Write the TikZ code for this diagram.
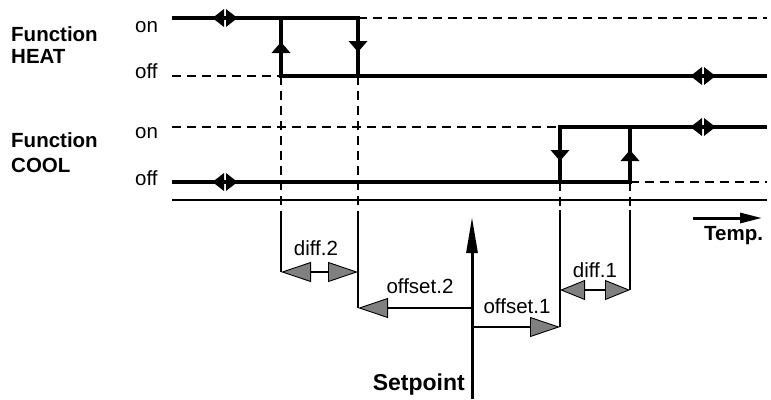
\documentclass[tikz,border=0pt]{standalone}
\usepackage{fontspec}
\setmainfont{Liberation Sans}
\usetikzlibrary{arrows.meta}
\definecolor{headgray}{RGB}{128,128,128}
\tikzset{
  lbl/.style={inner sep=0pt, font=\fontsize{20.5}{21}\selectfont},
  blbl/.style={inner sep=0pt, font=\fontsize{20.5}{21}\selectfont\bfseries},
  thick step/.style={line width=4pt, line cap=butt, line join=miter},
  dashline/.style={line width=1.6pt, dash pattern=on 9pt off 6pt},
  leg/.style={line width=1.8pt},
  dimarrow/.style={line width=2pt},
  gH/.tip={Triangle[length=30pt, width=20pt, fill=headgray, line width=0.9pt]},
  gS/.tip={Triangle[length=25pt, width=20pt, fill=headgray, line width=0.9pt]}
}
\begin{document}
\begin{tikzpicture}[x=1pt,y=-1pt]
\useasboundingbox (0,0) rectangle (771,399);
% coordinates
\coordinate (L1) at (172,18);   % heat on level
\coordinate (L2) at (172,76);   % heat off level
\coordinate (L3) at (172,127);  % cool on level
\coordinate (L4) at (172,182);  % cool off level
\coordinate (hA1) at (281,18);  \coordinate (hA2) at (281,76);
\coordinate (hB1) at (358,18);  \coordinate (hB2) at (358,76);
\coordinate (cA1) at (560,127); \coordinate (cA2) at (560,182);
\coordinate (cB1) at (630,127); \coordinate (cB2) at (630,182);
\coordinate (R1) at (767,18);   \coordinate (R2) at (767,76);
\coordinate (R3) at (767,127);  \coordinate (R4) at (767,182);
\coordinate (ax0) at (172,200); \coordinate (ax1) at (767,200);

% labels
\node[blbl, anchor=base west] (fh1) at (11,41) {Function};
\node[blbl, anchor=base west] (fh2) at (11,63) {HEAT};
\node[blbl, anchor=base west] (fc1) at (11,147) {Function};
\node[blbl, anchor=base west] (fc2) at (11,172) {COOL};
\node[lbl, anchor=base west] (on1) at (135,32) {on};
\node[lbl, anchor=base west] (off1) at (135,78) {off};
\node[lbl, anchor=base west] (on2) at (135,138) {on};
\node[lbl, anchor=base west] (off2) at (135,185) {off};

% dashed level lines
\draw[dashline] (L2) -- (hA2);
\draw[dashline] (hB1) -- (R1);
\draw[dashline] (L3) -- (cA1);
\draw[dashline] (cB2) -- (R4);

% axis
\draw[line width=1.5pt] (ax0) -- (ax1);

% heat step
\draw[thick step] (L1) -- (hB1) -- (hB2);
\draw[thick step] (hA1) -- (hA2) -- (R2);
% cool step
\draw[thick step] (L4) -- (cB2) -- (cB1);
\draw[thick step] (cA2) -- (cA1) -- (R3);

% small direction arrows on the steps
\fill (281,42) -- (271.5,53) -- (290.5,53) -- cycle;
\fill (358,52) -- (348.5,41) -- (367.5,41) -- cycle;
\fill (560,161) -- (550.5,150) -- (569.5,150) -- cycle;
\fill (630,150) -- (620.5,161) -- (639.5,161) -- cycle;

% break symbols
\foreach \cx/\cy in {225/18, 225/182, 703/76, 703/127}{
  \fill (\cx-12.5,\cy) -- (\cx-1,\cy-9) -- (\cx-1,\cy+9) -- cycle;
  \fill (\cx+12.5,\cy) -- (\cx+1,\cy-9) -- (\cx+1,\cy+9) -- cycle;
}

% dimension legs
\coordinate (d2a) at (281,218); \coordinate (d2b) at (281,272);
\coordinate (d2c) at (358,218); \coordinate (d2d) at (358,272);
\coordinate (o2e) at (358,308);
\coordinate (d1a) at (560,210); \coordinate (d1b) at (560,290);
\coordinate (o1e) at (560,327);
\coordinate (d1c) at (630,210); \coordinate (d1d) at (630,290);
\draw[dashline] (hA2) -- (d2a);
\draw[dashline] (hB2) -- (d2c);
\draw[dashline] (cA2) -- (d1a);
\draw[dashline] (cB2) -- (d1c);
\draw[leg] (d2a) -- (d2b);
\draw[leg] (d2c) -- (o2e);
\draw[leg] (d1a) -- (o1e);
\draw[leg] (d1c) -- (d1d);

% setpoint
\coordinate (spb) at (472,399);
\coordinate (spt) at (472,217);
\coordinate (sp2) at (472,308);
\coordinate (sp1) at (472,327);
\draw[line width=3pt, -{Triangle[length=36pt, width=11pt]}] (spb) -- (spt);
\node[inner sep=0pt, font=\fontsize{23}{24}\selectfont\bfseries, anchor=base east] (sp) at (465,390) {Setpoint};

% dimension arrows
\draw[dimarrow, gH-gH] (d2b) -- (d2d);
\draw[dimarrow, -gH] (sp2) -- (o2e);
\draw[line width=1.5pt, -gH] (sp1) -- (o1e);
\draw[dimarrow, gS-gS] (d1b) -- (d1d);

\node[lbl, anchor=base] (tdiff2) at (316,255) {diff.2};
\node[lbl, anchor=base] (toff2) at (420,293) {offset.2};
\node[lbl, anchor=base] (toff1) at (517,313) {offset.1};
\node[lbl, anchor=base] (tdiff1) at (595,277) {diff.1};

% temperature direction
\coordinate (t0) at (693,218);
\coordinate (t1) at (762,218);
\draw[line width=3pt, -{Triangle[length=22pt, width=10pt]}] (t0) -- (t1);
\node[blbl, anchor=base west] (temp) at (704,240) {Temp.};
\end{tikzpicture}
\end{document}
